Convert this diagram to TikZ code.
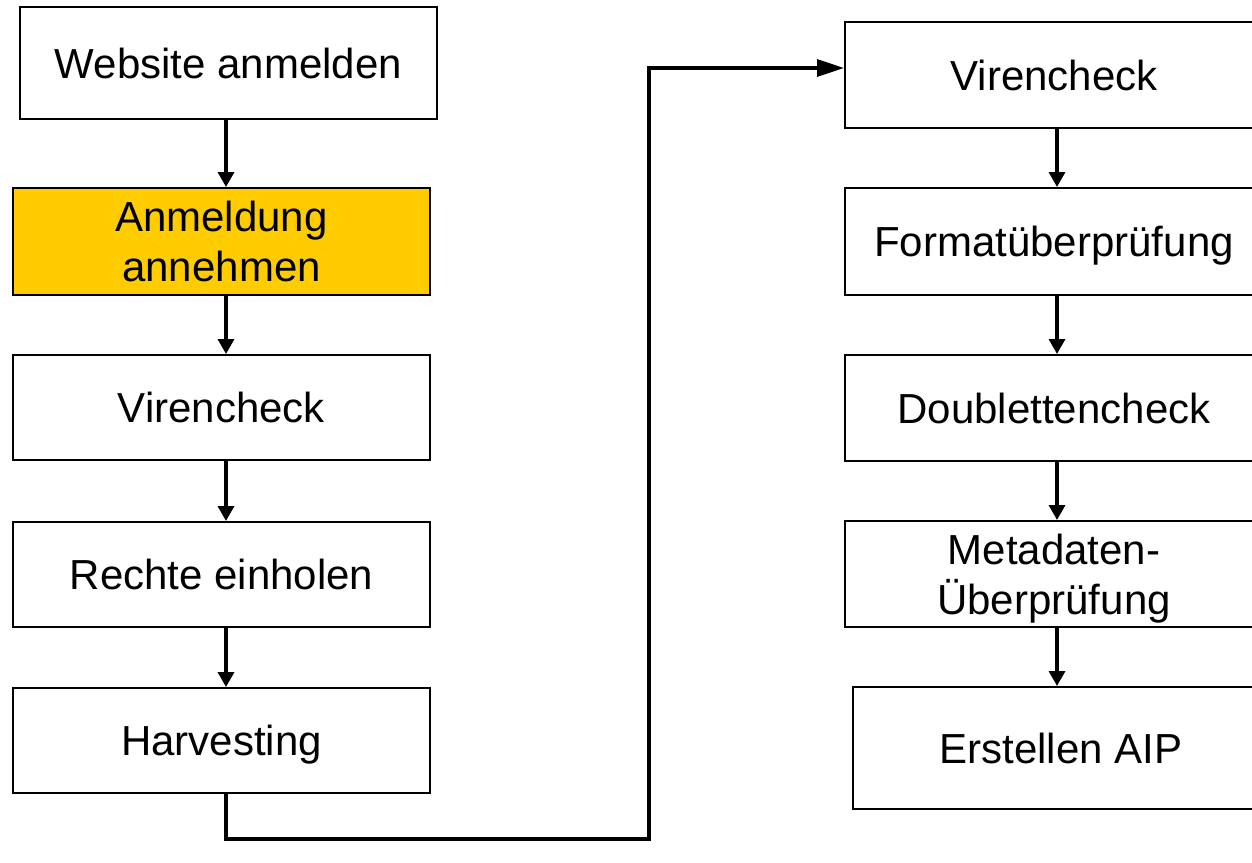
\documentclass[tikz,border=0pt]{standalone}
\usepackage{fontspec}
\setmainfont{Liberation Sans}
\usetikzlibrary{arrows.meta}
\definecolor{boxgold}{HTML}{FFCC00}
\newcommand{\nodesc}[1]{\raisebox{0pt}[\height][0pt]{#1}}
\begin{document}
\begin{tikzpicture}[x=1pt,y=-1pt,
  stepbox/.style={draw=black, line width=2pt, fill=white, inner sep=0pt,
    align=center, font=\fontsize{42}{50.4}\selectfont},
  flowarr/.style={line width=3.4pt, -{Triangle[length=15pt,width=16pt]}},
  looparr/.style={line width=3.4pt, line join=miter, -{Triangle[length=27pt,width=17pt]}}]
\useasboundingbox (0,0) rectangle (1252,862);
\clip (0,0) rectangle (1252,862);
\fill[white] (0,0) rectangle (1252,862);

% left column
\node[stepbox, minimum width=417pt, minimum height=112pt] (W) at (228.5,63) {Website anmelden};
\node[stepbox, fill=boxgold, minimum width=417pt, minimum height=107pt] (A) at (221.5,241.5) {Anmeldung\\annehmen};
\node[stepbox, minimum width=417pt, minimum height=105pt] (V1) at (221.5,407.5) {Virencheck};
\node[stepbox, minimum width=417pt, minimum height=105pt] (R) at (221.5,574.5) {Rechte einholen};
\node[stepbox, minimum width=417pt, minimum height=105pt] (H) at (221.5,740.5) {\nodesc{Harvesting}};

% right column
\node[stepbox, minimum width=418pt, minimum height=106pt] (V2) at (1054,75) {Virencheck};
\node[stepbox, minimum width=418pt, minimum height=107pt] (F) at (1054,241.5) {\nodesc{Formatüberprüfung}};
\node[stepbox, minimum width=418pt, minimum height=106pt] (D) at (1054,408) {Doublettencheck};
\node[stepbox, minimum width=418pt, minimum height=106pt] (M) at (1054,574) {Metadaten-\\\nodesc{Überprüfung}};
\node[stepbox, minimum width=416pt, minimum height=122pt] (E) at (1061,748) {Erstellen AIP};

% connector guides
\coordinate (lx) at (226,0);
\coordinate (rx) at (1057,0);
\coordinate (c1) at (226,839);
\coordinate (c2) at (649,839);
\coordinate (c3) at (649,68);

% left arrows
\draw[flowarr] (W.south -| lx) -- (A.north -| lx);
\draw[flowarr] (A.south -| lx) -- (V1.north -| lx);
\draw[flowarr] (V1.south -| lx) -- (R.north -| lx);
\draw[flowarr] (R.south -| lx) -- (H.north -| lx);

% right arrows
\draw[flowarr] (V2.south -| rx) -- (F.north -| rx);
\draw[flowarr] (F.south -| rx) -- (D.north -| rx);
\draw[flowarr] (D.south -| rx) -- (M.north -| rx);
\draw[flowarr] (M.south -| rx) -- (E.north -| rx);

% loop connector
\draw[looparr] (H.south -| lx) -- (c1) -- (c2) -- (c3) -- (c3 -| V2.west);
\end{tikzpicture}
\end{document}
